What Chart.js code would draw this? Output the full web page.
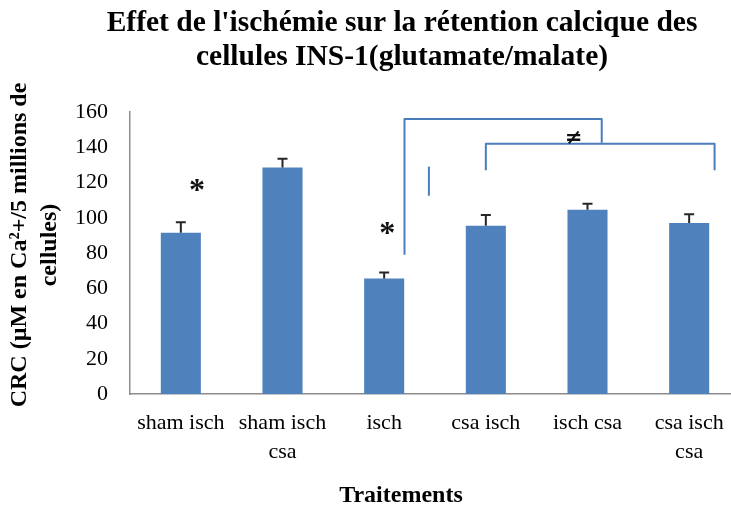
<!DOCTYPE html>
<html>
<head>
<meta charset="utf-8">
<script src="https://cdn.jsdelivr.net/npm/chart.js@4/dist/chart.umd.min.js"></script>
<style>
  html, body { margin: 0; padding: 0; background: #fff; width: 731px; height: 506px; overflow: hidden; }
  #wrap { position: relative; width: 750px; height: 515px; }
</style>
</head>
<body>
<div id="wrap"><canvas id="c" width="750" height="515"></canvas></div>
<script>
// Treatment groups (multi-line labels)
const categories = [
  ['sham isch'],
  ['sham isch', 'csa'],
  ['isch'],
  ['csa isch'],
  ['isch csa'],
  ['csa isch', 'csa']
];
// Calcium retention capacity (µM Ca2+ / 5 million cells) and standard errors
const crcValues = [91.5, 128.5, 65.5, 95.5, 104.5, 97];
const crcErrors = [6, 5, 3.5, 6, 3.5, 5];

// Y axis range
const yMin = 0;
const yMax = 160;
const yStep = 20;

// Significance marks, in (category index, value) units
const starMarks = [
  { x: 0.16, y: 118.5 },
  { x: 2.03, y: 94 }
];
const notEqualMark = { x: 3.865, y: 145.8 };
const bracketLines = [
  [[2.2, 79], [2.2, 156], [4.14, 156], [4.14, 142.5]],
  [[3.0, 127], [3.0, 142], [5.25, 142], [5.25, 127]],
  [[2.44, 112.5], [2.44, 129]]
];

const titleLines = ["Effet de l'ischémie sur la rétention calcique des", "cellules INS-1(glutamate/malate)"];
const yTitleLines = ['CRC (µM en Ca²+/5 millions de', 'cellules)'];
const xTitle = 'Traitements';

const SERIF = '"Liberation Serif", "Times New Roman", serif';

function drawCenteredGlyph(ctx, text, font, cx, cy) {
  ctx.font = font;
  ctx.textAlign = 'center';
  ctx.textBaseline = 'alphabetic';
  const m = ctx.measureText(text);
  const by = cy + (m.actualBoundingBoxAscent - m.actualBoundingBoxDescent) / 2;
  ctx.fillText(text, cx, by);
}

const extrasPlugin = {
  id: 'extras',
  afterDatasetsDraw(chart) {
    const ctx = chart.ctx;
    const xs = chart.scales.x;
    const ys = chart.scales.y;
    ctx.save();

    // error bars
    ctx.strokeStyle = '#262626';
    ctx.lineWidth = 2;
    crcValues.forEach((v, i) => {
      const px = xs.getPixelForValue(i);
      const y0 = ys.getPixelForValue(v);
      const y1 = ys.getPixelForValue(v + crcErrors[i]);
      ctx.beginPath();
      ctx.moveTo(px, y0);
      ctx.lineTo(px, y1);
      ctx.moveTo(px - 5, y1);
      ctx.lineTo(px + 5, y1);
      ctx.stroke();
    });

    // brackets
    ctx.strokeStyle = '#4A7EBB';
    ctx.lineWidth = 2;
    ctx.lineJoin = 'round';
    bracketLines.forEach(line => {
      ctx.beginPath();
      line.forEach(([cx, cy], k) => {
        const px = xs.getPixelForValue(cx);
        const py = ys.getPixelForValue(cy);
        if (k === 0) ctx.moveTo(px, py); else ctx.lineTo(px, py);
      });
      ctx.stroke();
    });

    // stars and the not-equal sign
    ctx.fillStyle = '#111';
    starMarks.forEach(s => {
      drawCenteredGlyph(ctx, '*', 'bold 32px ' + SERIF,
        xs.getPixelForValue(s.x), ys.getPixelForValue(s.y));
    });
    drawCenteredGlyph(ctx, '≠', 'bold 21px "DejaVu Sans", sans-serif',
      xs.getPixelForValue(notEqualMark.x), ys.getPixelForValue(notEqualMark.y));

    // chart title
    ctx.fillStyle = '#000';
    ctx.font = 'bold 29.5px ' + SERIF;
    ctx.textAlign = 'center';
    ctx.textBaseline = 'alphabetic';
    titleLines.forEach((t, k) => ctx.fillText(t, 402, 31 + k * 33.5));

    // x axis title
    ctx.font = 'bold 24px ' + SERIF;
    ctx.fillText(xTitle, 401, 502);

    // y axis title (rotated)
    ctx.save();
    ctx.font = 'bold 24px ' + SERIF;
    ctx.textBaseline = 'middle';
    ctx.translate(0, 245);
    ctx.rotate(-Math.PI / 2);
    yTitleLines.forEach((t, k) => ctx.fillText(t, 0, 20 + k * 30));
    ctx.restore();

    ctx.restore();
  }
};

new Chart(document.getElementById('c'), {
  type: 'bar',
  data: {
    labels: categories,
    datasets: [{
      data: crcValues,
      backgroundColor: '#4F81BD',
      borderWidth: 0,
      barPercentage: 0.394,
      categoryPercentage: 1.0
    }]
  },
  options: {
    responsive: false,
    animation: false,
    devicePixelRatio: 1,
    layout: { padding: { top: 112, right: 10, bottom: 0, left: 0 } },
    plugins: {
      legend: { display: false },
      tooltip: { enabled: false },
      title: { display: false }
    },
    scales: {
      x: {
        offset: true,
        grid: { display: false, drawTicks: false },
        border: { display: true, color: '#8C8C8C', width: 1.5 },
        ticks: {
          color: '#000',
          padding: 15,
          maxRotation: 0,
          autoSkip: false,
          font: { family: SERIF, size: 22, lineHeight: 1.3 }
        },
        afterFit(scale) { scale.height = 121; }
      },
      y: {
        min: yMin,
        max: yMax,
        grid: { display: false, drawTicks: false },
        border: { display: true, color: '#8C8C8C', width: 1.5 },
        ticks: {
          stepSize: yStep,
          color: '#000',
          padding: 22,
          font: { family: SERIF, size: 22 }
        },
        afterFit(scale) { scale.width = 130; }
      }
    }
  },
  plugins: [extrasPlugin]
});
</script>
</body>
</html>
